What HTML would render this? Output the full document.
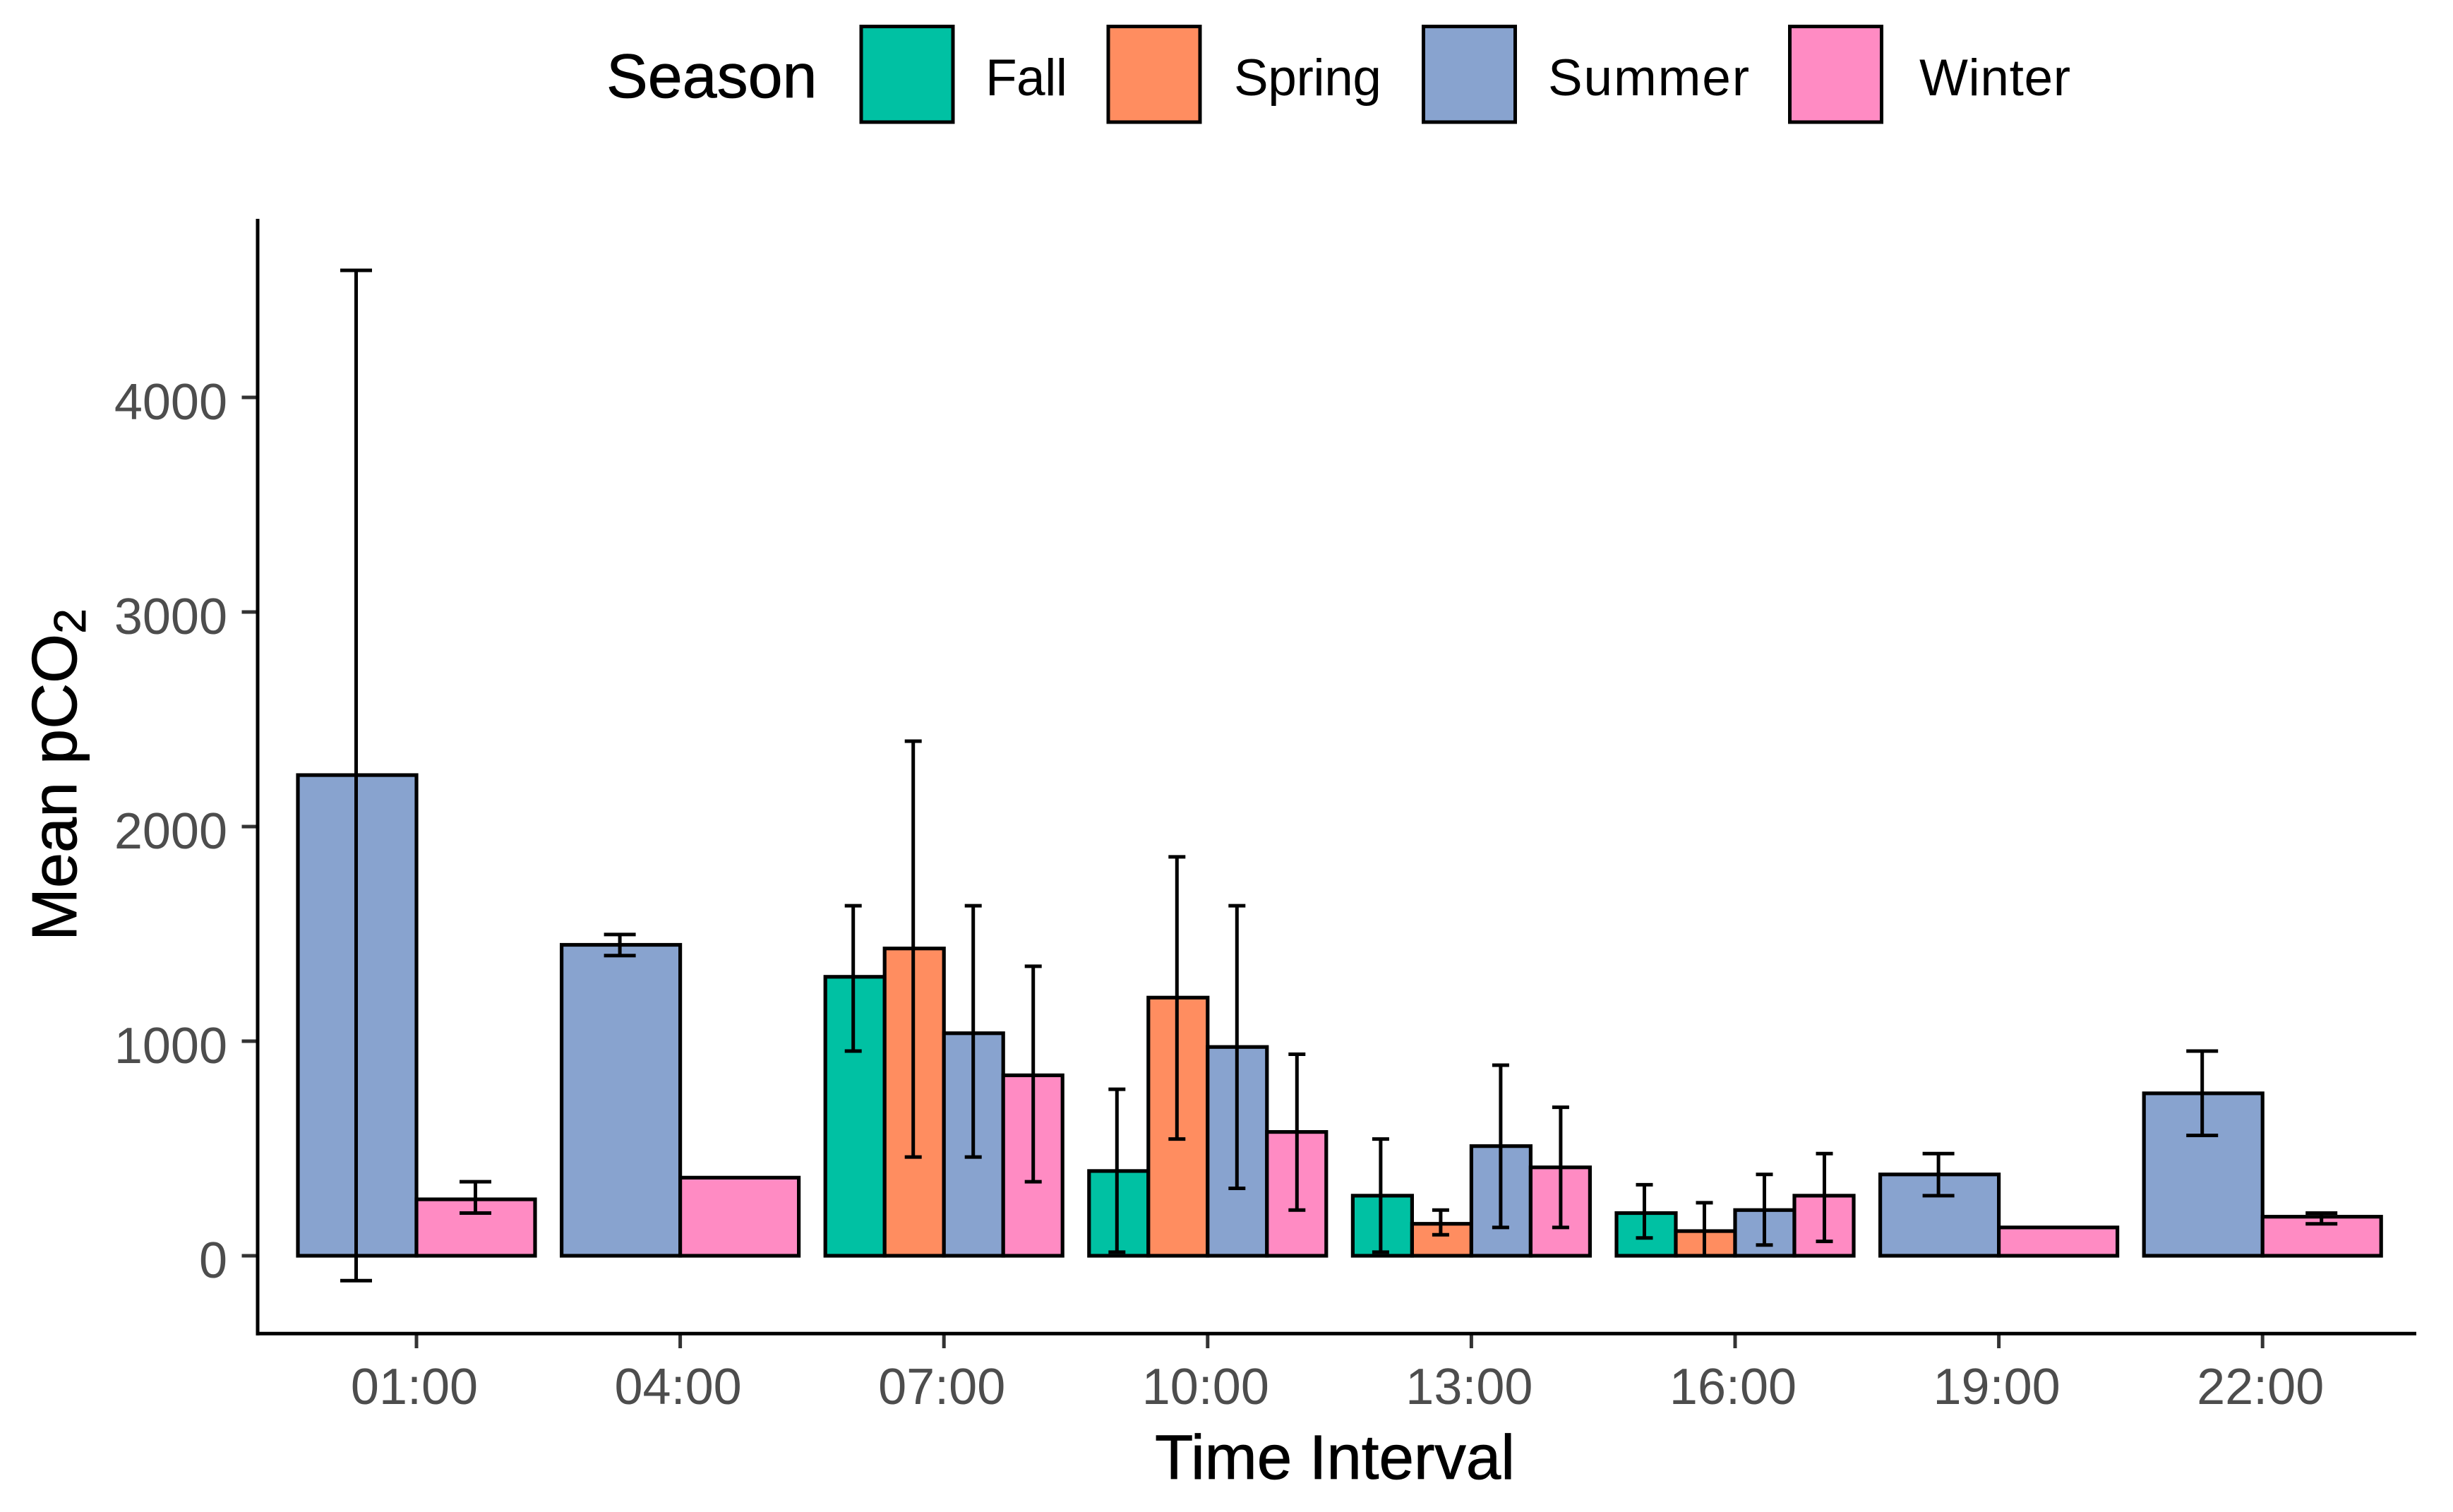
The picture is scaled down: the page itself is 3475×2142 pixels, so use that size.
<!DOCTYPE html>
<html lang="en">
<head>
<meta charset="utf-8">
<title>Mean pCO2 by Time Interval and Season</title>
<style>
html,body{margin:0;padding:0;background:#fff;width:3475px;height:2142px;overflow:hidden}
svg{display:block}
text{font-family:"Liberation Sans",Arial,sans-serif}
</style>
</head>
<body>
<svg id="chart" width="3475" height="2142" viewBox="0 0 3475 2142" xmlns="http://www.w3.org/2000/svg">
  <rect x="0" y="0" width="3475" height="2142" fill="#ffffff"/>
  <g id="bars"></g>
  <g id="errors"></g>
  <g id="axes"></g>
  <text x="1891" y="2095" font-size="89" text-anchor="middle" fill="#000" stroke="#000" stroke-width="0.8" textLength="510">Time Interval</text>
  <text transform="translate(108,1333) rotate(-90)" font-size="90" fill="#000" stroke="#000" stroke-width="0.8">Mean pCO<tspan dy="13" font-size="64">2</tspan></text>
  <g id="legend">
    <text x="859" y="138" font-size="88" fill="#000" stroke="#000" stroke-width="0.8">Season</text>
  </g>
</svg>
<script>
const categories = ["01:00","04:00","07:00","10:00","13:00","16:00","19:00","22:00"];
const seriesNames = ["Fall","Spring","Summer","Winter"];
const seriesColors = ["#00C1A3","#FF8D60","#88A3CF","#FF8BC3"];
const yTicks = [0,1000,2000,3000,4000];

const fallMean   = [null,null,1300,395,280,199,null,null];
const springMean = [null,null,1432,1203,149,115,null,null];
const summerMean = [2240,1449,1037,973,511,213,379,757];
const winterMean = [263,364,841,577,412,280,132,182];

const fallHigh   = [null,null,1631,776,544,331,null,null];
const fallLow    = [null,null,954,17,17,83,null,null];
const springHigh = [null,null,2398,1859,213,247,null,null];
const springLow  = [null,null,460,544,98,0,null,null];
const summerHigh = [4592,1497,1631,1631,888,379,476,954];
const summerLow  = [-116,1399,460,314,132,50,280,561];
const winterHigh = [345,null,1349,939,692,476,null,199];
const winterLow  = [199,null,345,213,132,67,null,149];

const means = [fallMean,springMean,summerMean,winterMean];
const highs = [fallHigh,springHigh,summerHigh,winterHigh];
const lows  = [fallLow,springLow,summerLow,winterLow];

const NS = "http://www.w3.org/2000/svg";
const X0 = 590, XSTEP = 373.6, GROUP_W = 336;
const Y0 = 1779, YSCALE = 0.304;
function xScale(i){ return X0 + XSTEP * i; }
function yScale(v){ return Y0 - YSCALE * v; }
function mk(tag, attrs, parent){
  const el = document.createElementNS(NS, tag);
  for (const k in attrs) el.setAttribute(k, attrs[k]);
  parent.appendChild(el);
  return el;
}

const barsG = document.getElementById("bars");
const errG = document.getElementById("errors");
const axesG = document.getElementById("axes");
const legendG = document.getElementById("legend");

categories.forEach(function(cat, i){
  const present = [];
  means.forEach(function(arr, s){ if (arr[i] !== null) present.push(s); });
  const n = present.length;
  const w = GROUP_W / n;
  const left = xScale(i) - GROUP_W / 2;
  const errStep = n === 4 ? 85 : 169;
  present.forEach(function(s, j){
    const top = yScale(means[s][i]);
    const bar = mk("rect", {x:left + j*w, y:top, width:w, height:Y0 - top, fill:seriesColors[s], stroke:"#000", "stroke-width":5.2}, barsG);
    
    
    if (highs[s][i] === null) return;
    const cx = xScale(i) - 1 + (j - (n-1)/2) * errStep;
    const capHalf = n === 4 ? 12 : 22.5;
    const yHi = yScale(highs[s][i]), yLo = yScale(lows[s][i]);
    const stem = mk("line", {x1:cx, x2:cx, y1:yHi, y2:yLo, stroke:"#000", "stroke-width":5}, errG);
    
    
    const capTop = mk("line", {x1:cx-capHalf, x2:cx+capHalf, y1:yHi, y2:yHi, stroke:"#000", "stroke-width":5}, errG);
    
    
    const capBot = mk("line", {x1:cx-capHalf, x2:cx+capHalf, y1:yLo, y2:yLo, stroke:"#000", "stroke-width":5}, errG);
    
    
  });
  const tick = mk("line", {x1:xScale(i), x2:xScale(i), y1:1889, y2:1910, stroke:"#333333", "stroke-width":5}, axesG);
  
  
  const lab = mk("text", {x:xScale(i) - 3, y:1989, "font-size":72, "text-anchor":"middle", fill:"#4d4d4d"}, axesG);
  lab.textContent = cat;
  
  
});

yTicks.forEach(function(v){
  const tick = mk("line", {x1:342.5, x2:365, y1:yScale(v), y2:yScale(v), stroke:"#333333", "stroke-width":5}, axesG);
  
  
  const lab = mk("text", {x:322, y:yScale(v) + 31, "font-size":72, "text-anchor":"end", fill:"#4d4d4d"}, axesG);
  lab.textContent = String(v);
  
  
});

const yAxisLine = mk("line", {x1:365, x2:365, y1:310, y2:1891.7, stroke:"#000", "stroke-width":5}, axesG);


const xAxisLine = mk("line", {x1:362.5, x2:3423, y1:1889.3, y2:1889.3, stroke:"#000", "stroke-width":5}, axesG);



const legendKeyX = [1220, 1570, 2016.5, 2535.5];
const legendTextX = [1396, 1748, 2193, 2719];
const legendTextLen = [116, 209, 285, 214];
seriesNames.forEach(function(name, s){
  const key = mk("rect", {x:legendKeyX[s], y:37.5, width:130, height:135.5, fill:seriesColors[s], stroke:"#000", "stroke-width":5}, legendG);
  
  
  const label = mk("text", {x:legendTextX[s], y:135, "font-size":73, fill:"#000", textLength:legendTextLen[s]}, legendG);
  label.textContent = name;
  
  
});
</script>
</body>
</html>
